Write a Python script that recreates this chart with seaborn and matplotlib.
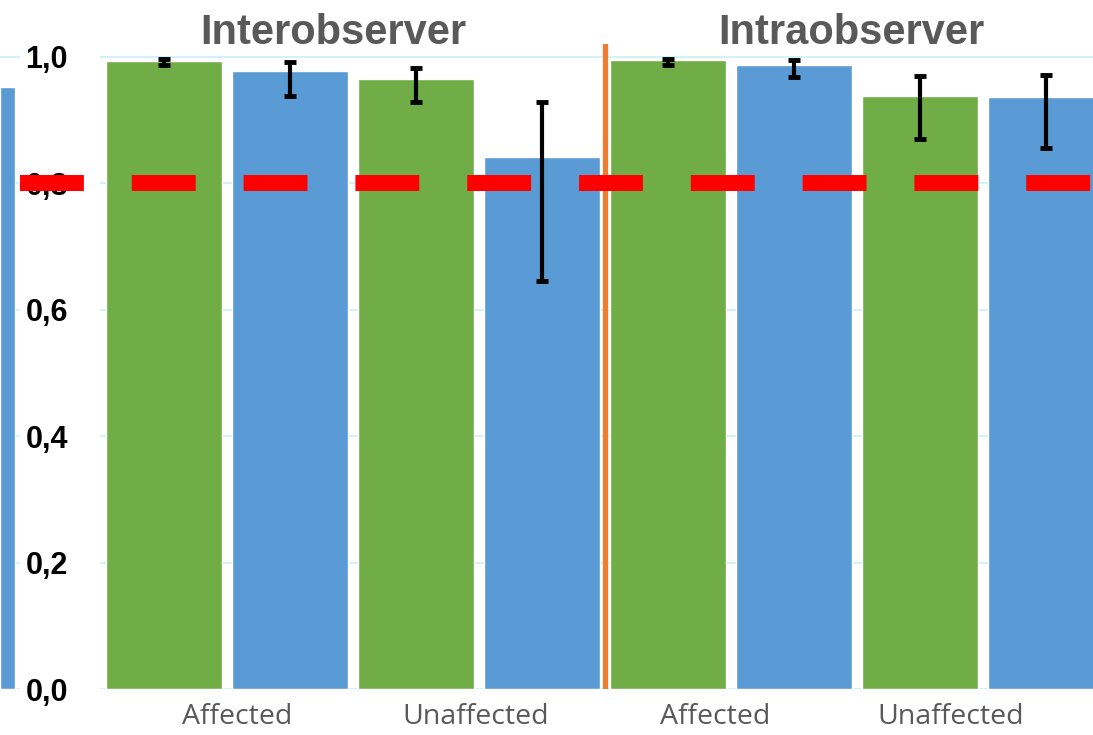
import numpy as np
import pandas as pd
import matplotlib
matplotlib.use("Agg")
import matplotlib.pyplot as plt
import seaborn as sns

# =========================
# DATA
# =========================
groups = ["Interobserver", "Intraobserver"]
categories = ["Inter Affected", "Inter Unaffected", "Intra Affected", "Intra Unaffected"]
tick_labels = ["Affected", "Unaffected", "Affected", "Unaffected"]
series = ["Series 1", "Series 2"]

green_vals = [0.993, 0.965, 0.995, 0.938]
green_low = [0.987, 0.929, 0.988, 0.870]
green_high = [0.997, 0.983, 0.997, 0.970]

blue_vals = [0.978, 0.842, 0.988, 0.936]
blue_low = [0.938, 0.645, 0.968, 0.856]
blue_high = [0.992, 0.929, 0.996, 0.972]

prev_chart_value = 0.953   # last bar of the chart cut off on the left
threshold = 0.8
y_ticks = [0.0, 0.2, 0.4, 0.6, 0.8, 1.0]

GREEN = "#70AD47"
BLUE = "#5B9BD5"
ORANGE = "#ED7D31"
RED = "#FF0000"
GRID = "#D4F0FA"
GRAY = "#595959"

df = pd.DataFrame({
    "category": categories * 2,
    "series": [series[0]] * 4 + [series[1]] * 4,
    "value": green_vals + blue_vals,
})

# =========================
# FIGURE
# =========================
sns.set_theme(style="white")
plt.rcParams["font.family"] = ["Liberation Sans", "DejaVu Sans"]

W, H = 1093, 735
fig = plt.figure(figsize=(W / 100, H / 100), dpi=100)

# main axes: y=1.0 at px 57, y=0 at px 689
y_top = 1.02
bottom_px, one_px = 689, 57
top_px = bottom_px - (bottom_px - one_px) * y_top
ax = fig.add_axes([100 / W, 1 - bottom_px / H, (W - 100) / W, (bottom_px - top_px) / H])

sns.barplot(data=df, x="category", y="value", hue="series", order=categories,
            hue_order=series, palette=[GREEN, BLUE], width=1.0, gap=0.08,
            saturation=1, legend=False, ax=ax, zorder=2)

# error bars (asymmetric)
for cont, vals, lo, hi in zip(ax.containers, [green_vals, blue_vals],
                              [green_low, blue_low], [green_high, blue_high]):
    xs = [p.get_x() + p.get_width() / 2 for p in cont]
    v = np.array(vals)
    yerr = [v - np.array(lo), np.array(hi) - v]
    ax.errorbar(xs, v, yerr=yerr, fmt="none", ecolor="black", elinewidth=3,
                capsize=4.5, capthick=3.5, zorder=4)

ax.set_ylim(0, y_top)
ax.set_xlim(-0.504, 3.437)
ax.set_yticks(y_ticks)
ax.set_yticklabels([f"{t:.1f}".replace(".", ",") for t in y_ticks],
                   fontsize=22, fontweight="bold", color="black")
# category labels sit a little off the bar-pair centres in the original
label_shift = [0.04, -0.012, -0.063, -0.127]
ax.set_xticks(np.arange(len(categories)) + np.array(label_shift))
ax.set_xticklabels(tick_labels, fontsize=20.5, color=GRAY,
                   family=["Open Sans", "DejaVu Sans"])
ax.tick_params(axis="y", length=0, pad=23)
ax.tick_params(axis="x", length=0, pad=10)
ax.set_xlabel("")
ax.set_ylabel("")
for s in ax.spines.values():
    s.set_visible(False)
ax.yaxis.grid(True, color=GRID, linewidth=1.5, zorder=0)
ax.set_axisbelow(True)

# separator between the two groups
ax.axvline(1.5, color=ORANGE, linewidth=3.8, zorder=3)

# threshold line, running out to the left edge
ax.axhline(threshold, xmin=-80 / (W - 100), xmax=1, color=RED, linewidth=11.5,
           linestyle=(0, (4.0, 3.0)), dash_capstyle="butt", clip_on=False, zorder=5)

# group titles
for g, gx in zip(groups, [0.42, 2.48]):
    ax.text(gx, 1.017, g, transform=ax.get_xaxis_transform(),
            ha="center", va="center", fontsize=30, fontweight="bold", color=GRAY)

ax.set_facecolor("none")

# left: last bar of the neighbouring chart (cut off)
axl = fig.add_axes([0, 1 - bottom_px / H, 20 / W, (bottom_px - top_px) / H])
sns.barplot(x=["prev"], y=[prev_chart_value], color=BLUE, saturation=1, width=0.92,
            ax=axl, zorder=2)
axl.set_ylim(0, y_top)
axl.set_xlim(-0.46, 0.46 + 0.92 / 3)
axl.set_yticks(y_ticks)
axl.yaxis.grid(True, color=GRID, linewidth=1.5, zorder=0)
axl.set_axisbelow(True)
axl.set_xticks([])
axl.set_yticklabels([])
axl.tick_params(length=0)
axl.set_xlabel("")
axl.set_ylabel("")
for s in axl.spines.values():
    s.set_visible(False)
axl.set_facecolor("none")

fig.savefig("out.png", dpi=100)
